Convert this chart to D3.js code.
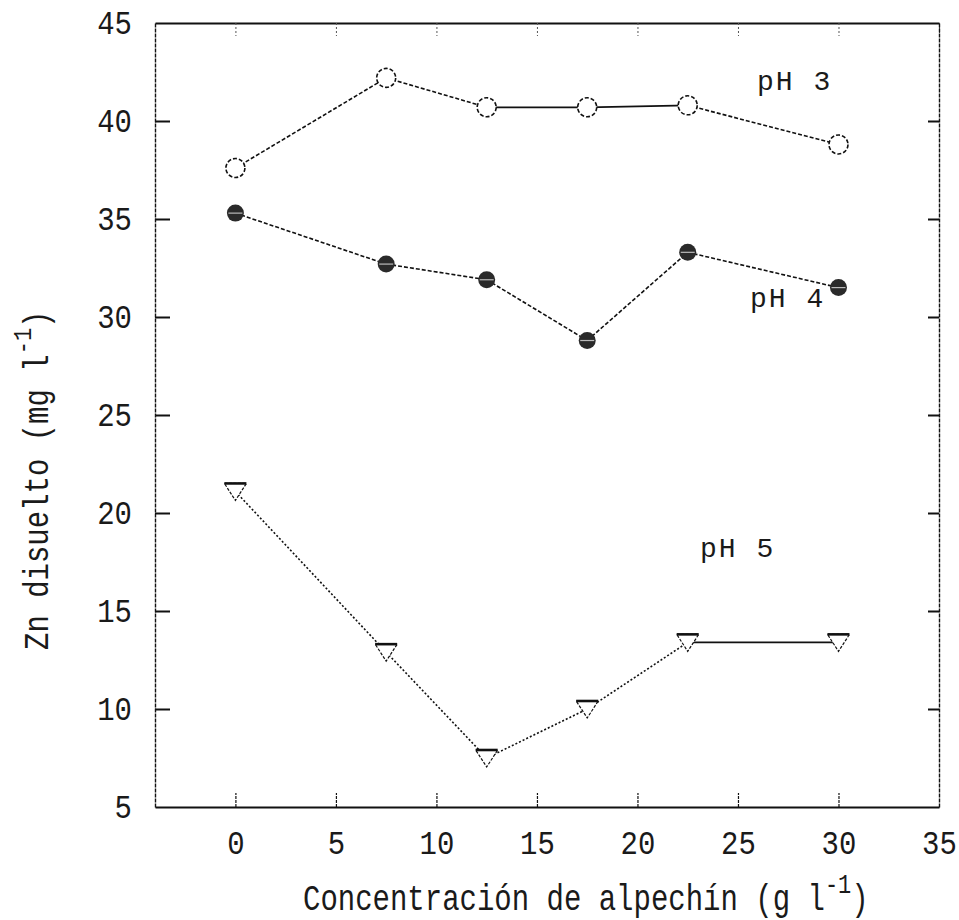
<!DOCTYPE html>
<html>
<head>
<meta charset="utf-8">
<script src="https://cdn.jsdelivr.net/npm/d3@7"></script>
<style>
    body { margin: 0; background: #fff; }
    svg { display: block; }
    text { font-family: 'Liberation Mono', 'DejaVu Sans Mono', monospace; fill: #1a1a1a; }
</style>
</head>
<body>
<svg id="chart" width="959" height="920"></svg>
<script>
// concentración de alpechín (g l-1)
const conc = [0, 7.5, 12.5, 17.5, 22.5, 30];
// Zn disuelto (mg l-1) por pH
const ph3 = [37.6, 42.2, 40.7, 40.7, 40.8, 38.8];
const ph4 = [35.3, 32.7, 31.9, 28.8, 33.3, 31.5];
const ph5 = [21.1, 12.9, 7.5, 10.0, 13.4, 13.4];
const seriesNames = ['pH 3', 'pH 4', 'pH 5'];
const xTicks = [0, 5, 10, 15, 20, 25, 30, 35];
const yTicks = [5, 10, 15, 20, 25, 30, 35, 40, 45];

document.addEventListener('DOMContentLoaded', function () {
    const svg = d3.select('#chart');
    const left = 155, right = 939, top = 23, bottom = 807;

    const x = d3.scaleLinear().domain([-4, 35]).range([left, right]);
    const y = d3.scaleLinear().domain([5, 45]).range([bottom, top]);

    // axes
    const gx = svg.append('g')
        .attr('transform', `translate(0,${bottom})`)
        .call(d3.axisBottom(x).tickValues(xTicks).tickSize(-14).tickPadding(20).tickSizeOuter(0));
    const gxTop = svg.append('g')
        .attr('transform', `translate(0,${top})`)
        .call(d3.axisTop(x).tickValues(xTicks).tickSize(-13).tickFormat('').tickSizeOuter(0));
    const gy = svg.append('g')
        .attr('transform', `translate(${left},0)`)
        .call(d3.axisLeft(y).tickValues(yTicks).tickSize(-15).tickPadding(23).tickSizeOuter(0));
    const gyRight = svg.append('g')
        .attr('transform', `translate(${right},0)`)
        .call(d3.axisRight(y).tickValues(yTicks).tickSize(-11).tickFormat('').tickSizeOuter(0));

    [gx, gxTop, gy, gyRight].forEach(g => {
        g.selectAll('.domain').attr('stroke', '#111');
        g.selectAll('.tick line').attr('stroke', '#111').attr('stroke-width', 1.6);
        g.selectAll('.tick text')
            .style('font-size', '29px')
            .attr('fill', '#222')
            .attr('transform', 'scale(1,1.15)');
    });
    gx.select('.domain').attr('stroke-width', 2.2);
    gxTop.select('.domain').attr('stroke-width', 2.2);
    gxTop.selectAll('.tick line').attr('stroke-width', 1).attr('stroke-dasharray', '2,2').attr('stroke', '#555');
    gx.selectAll('.tick line').attr('stroke-width', 1.2).attr('stroke-dasharray', '3,1');
    gy.select('.domain').attr('stroke-width', 1.4).attr('stroke-dasharray', '4,1');
    gyRight.select('.domain').attr('stroke-width', 1.4).attr('stroke-dasharray', '4,1');
    gyRight.selectAll('.tick line').attr('stroke-width', 2);
    gy.selectAll('.tick line').attr('stroke-width', 2);
    gx.selectAll('.tick').filter(d => d === 35).select('line').remove();
    gyRight.selectAll('.tick').filter(d => d === 45 || d === 5).select('line').remove();
    gy.selectAll('.tick').filter(d => d === 45 || d === 5).select('line').remove();

    // lines
    const series = [ph3, ph4, ph5];
    // segment styles: 1 = solid, 0 = dashed
    const segSolid = [[0, 0, 1, 1, 0], [0, 0, 0, 0, 0], [0, 0, 0, 0, 1]];
    const line = d3.line().x(d => x(d[0])).y(d => y(d[1]));

    series.forEach((vals, s) => {
        const pts = conc.map((c, i) => [c, vals[i]]);
        for (let i = 0; i < pts.length - 1; i++) {
            svg.append('path')
                .attr('d', line([pts[i], pts[i + 1]]))
                .attr('fill', 'none')
                .attr('stroke', '#111')
                .attr('stroke-width', segSolid[s][i] ? 1.8 : 1.6)
                .attr('stroke-dasharray', segSolid[s][i] ? null : (s === 2 ? '2,2' : '4,2'));
        }
    });

    // markers: pH 3 open circles
    svg.append('g').selectAll('circle')
        .data(conc.map((c, i) => [c, ph3[i]]))
        .join('circle')
        .attr('cx', d => x(d[0]))
        .attr('cy', d => y(d[1]))
        .attr('r', 9.5)
        .attr('fill', '#fff')
        .attr('stroke', '#111')
        .attr('stroke-width', 1.6)
        .attr('stroke-dasharray', '4,2');

    // pH 4 filled circles
    const g4 = svg.append('g').selectAll('g')
        .data(conc.map((c, i) => [c, ph4[i]]))
        .join('g')
        .attr('transform', d => `translate(${x(d[0])},${y(d[1])})`);
    g4.append('circle').attr('r', 8.5).attr('fill', '#2a2a2a');
    g4.append('line').attr('x1', -7).attr('x2', 7).attr('y1', 0).attr('y2', 0)
        .attr('stroke', '#bbb').attr('stroke-width', 1.2);

    // pH 5 down triangles
    const g5 = svg.append('g').selectAll('g')
        .data(conc.map((c, i) => [c, ph5[i]]))
        .join('g')
        .attr('transform', d => `translate(${x(d[0])},${y(d[1])})`);
    g5.append('path')
        .attr('d', 'M-11,-8L11,-8L0,9Z')
        .attr('fill', '#fff')
        .attr('stroke', '#111')
        .attr('stroke-width', 1.2)
        .attr('stroke-dasharray', '3,1.5');
    g5.append('line').attr('x1', -11).attr('x2', 11).attr('y1', -8).attr('y2', -8)
        .attr('stroke', '#111').attr('stroke-width', 2.6);

    // series labels
    const labelPos = [[757, 90], [750, 307], [700, 557]];
    svg.append('g').selectAll('text')
        .data(seriesNames)
        .join('text')
        .attr('x', (d, i) => labelPos[i][0])
        .attr('y', (d, i) => labelPos[i][1])
        .style('font-size', '28px')
        .style('letter-spacing', '2px')
        .text(d => d);

    // axis titles
    const xt = svg.append('text')
        .attr('transform', 'translate(303,910) scale(1,1.25)')
        .style('font-size', '29px');
    xt.append('tspan').text('Concentración de alpechín (g l');
    xt.append('tspan').attr('dy', -14).style('font-size', '22px').text('-1');
    xt.append('tspan').attr('dy', 14).text(')');

    const yt = svg.append('text')
        .attr('transform', 'translate(48,650) rotate(-90) scale(1,1.2)')
        .style('font-size', '29px');
    yt.append('tspan').text('Zn disuelto (mg l');
    yt.append('tspan').attr('dy', -14).style('font-size', '22px').text('-1');
    yt.append('tspan').attr('dy', 14).text(')');
});
</script>
</body>
</html>
